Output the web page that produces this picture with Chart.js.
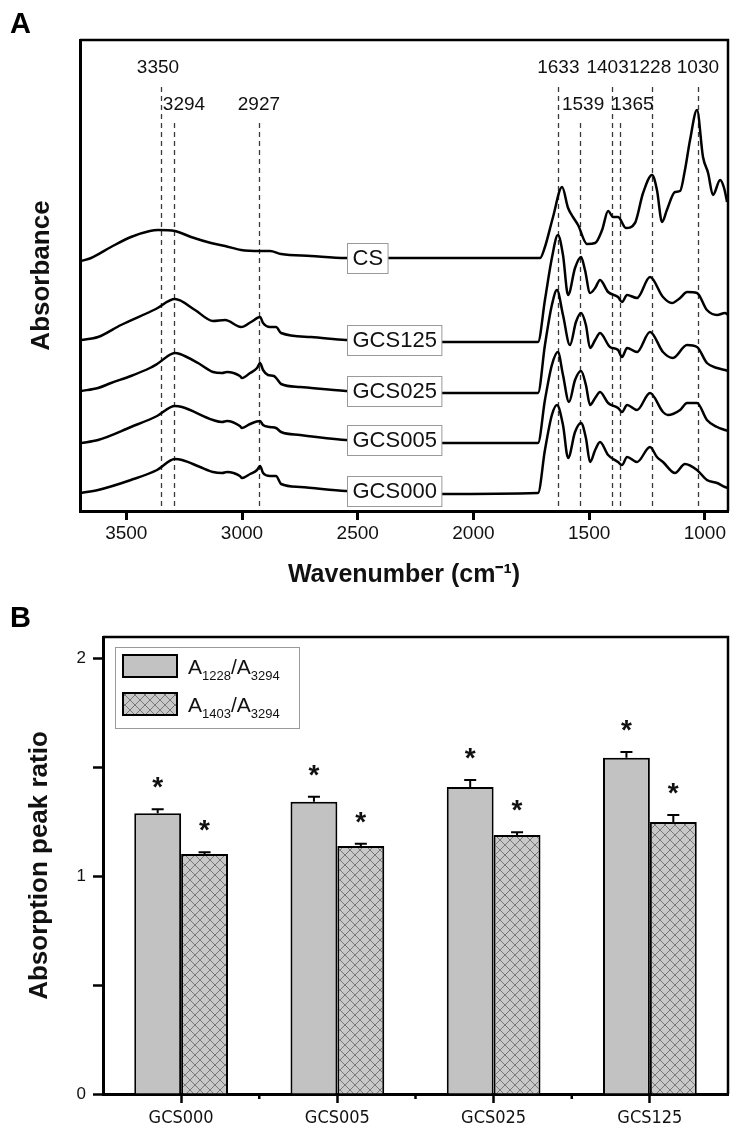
<!DOCTYPE html>
<html><head><meta charset="utf-8">
<script src="https://cdn.jsdelivr.net/npm/chart.js@4"></script>
<style>
html,body{margin:0;padding:0;background:#fff;}
#wrap{position:relative;width:739px;height:1137px;overflow:hidden;background:#fff;}
canvas{position:absolute;left:0;}
#ca{top:0;} #cb{top:590px;}
</style></head><body>
<div id="wrap"><canvas id="ca" width="739" height="590"></canvas><canvas id="cb" width="739" height="547"></canvas></div>
<script>
// ================= Panel A data (wavenumber cm-1, absorbance a.u.) =================
const wavenumberTicks = [3500, 3000, 2500, 2000, 1500, 1000];
const traceNames = ['CS', 'GCS125', 'GCS025', 'GCS005', 'GCS000'];
const specCS = [[3696,2.50],[3652,2.53],[3566,2.64],[3480,2.74],[3398,2.80],[3363,2.81],[3290,2.80],[3220,2.74],[3134,2.68],[3073,2.65],[3004,2.61],[2922,2.60],[2879,2.60],[2831,2.57],[2702,2.55],[2551,2.53],[2144,2.53],[1725,2.53],[1712,2.53],[1691,2.64],[1656,2.94],[1617,3.24],[1591,3.03],[1570,2.94],[1548,2.86],[1509,2.67],[1474,2.68],[1444,2.81],[1418,3.00],[1397,2.94],[1375,2.94],[1341,2.83],[1302,2.88],[1267,3.18],[1228,3.36],[1207,3.21],[1185,2.89],[1164,3.01],[1129,3.19],[1107,3.20],[1086,3.41],[1064,3.71],[1034,4.01],[1008,3.54],[986,3.38],[965,3.16],[934,3.31],[917,3.23],[904,3.09]];
const specGCS125 = [[3696,1.71],[3622,1.74],[3523,1.86],[3372,2.02],[3290,2.12],[3203,2.01],[3125,1.90],[3073,1.91],[3004,1.84],[2961,1.89],[2922,1.94],[2909,1.88],[2879,1.84],[2853,1.84],[2831,1.78],[2702,1.74],[2551,1.71],[2144,1.69],[1721,1.69],[1691,2.11],[1661,2.53],[1635,2.76],[1613,2.56],[1591,2.16],[1561,2.43],[1535,2.54],[1518,2.41],[1496,2.18],[1474,2.23],[1453,2.31],[1418,2.19],[1375,2.14],[1358,2.09],[1336,2.16],[1293,2.13],[1237,2.34],[1181,2.14],[1142,2.08],[1107,2.13],[1077,2.19],[1034,2.18],[991,2.01],[947,1.96],[913,1.98],[900,1.96]];
const specGCS025 = [[3696,1.20],[3622,1.23],[3566,1.28],[3480,1.35],[3398,1.43],[3367,1.47],[3290,1.58],[3268,1.57],[3190,1.48],[3125,1.39],[3086,1.38],[3065,1.39],[3009,1.35],[3000,1.33],[2965,1.38],[2935,1.43],[2922,1.48],[2909,1.41],[2888,1.36],[2862,1.35],[2849,1.32],[2831,1.27],[2749,1.24],[2551,1.20],[2144,1.18],[1721,1.18],[1691,1.66],[1661,2.06],[1639,2.21],[1613,1.96],[1583,1.66],[1557,1.89],[1535,1.98],[1514,1.86],[1496,1.63],[1474,1.71],[1453,1.78],[1410,1.64],[1375,1.61],[1358,1.54],[1336,1.63],[1293,1.59],[1237,1.79],[1181,1.59],[1138,1.53],[1077,1.66],[1034,1.64],[991,1.48],[947,1.43],[913,1.41],[900,1.40]];
const specGCS005 = [[3696,0.68],[3622,0.71],[3480,0.84],[3367,0.95],[3290,1.05],[3259,1.04],[3125,0.91],[3086,0.89],[3065,0.90],[3009,0.85],[3000,0.83],[2965,0.87],[2922,0.90],[2909,0.86],[2879,0.84],[2853,0.83],[2831,0.79],[2749,0.76],[2551,0.71],[2144,0.68],[1721,0.68],[1691,1.11],[1661,1.46],[1635,1.59],[1613,1.36],[1587,1.09],[1561,1.31],[1535,1.40],[1514,1.26],[1496,1.06],[1474,1.13],[1453,1.19],[1418,1.08],[1375,1.03],[1358,0.99],[1336,1.06],[1293,1.01],[1237,1.18],[1181,0.99],[1160,0.96],[1107,1.01],[1077,1.08],[1034,1.08],[991,0.91],[947,0.84],[913,0.81],[900,0.80]];
const specGCS000 = [[3696,0.18],[3622,0.21],[3480,0.31],[3367,0.41],[3290,0.52],[3259,0.51],[3181,0.44],[3125,0.39],[3086,0.38],[3065,0.39],[3009,0.35],[3000,0.33],[2965,0.37],[2935,0.41],[2922,0.45],[2909,0.38],[2879,0.35],[2853,0.35],[2831,0.27],[2749,0.24],[2551,0.20],[2144,0.17],[1721,0.18],[1691,0.61],[1661,0.96],[1639,1.06],[1613,0.86],[1591,0.53],[1561,0.79],[1535,0.88],[1514,0.73],[1496,0.49],[1474,0.61],[1453,0.69],[1418,0.56],[1375,0.49],[1358,0.46],[1336,0.54],[1293,0.49],[1237,0.64],[1207,0.54],[1181,0.49],[1129,0.38],[1086,0.47],[1034,0.41],[991,0.31],[947,0.28],[913,0.24],[900,0.23]];
const peakMarks = [3350, 3294, 2927, 1633, 1539, 1403, 1365, 1228, 1030];
const peakRow   = [0, 1, 1, 0, 1, 0, 1, 0, 0];
const traceLabelWn = 2545;

// ================= Panel B data =================
const samples   = ['GCS000', 'GCS005', 'GCS025', 'GCS125'];
const ratio1228 = [1.29, 1.343, 1.411, 1.545];
const err1228   = [0.018, 0.023, 0.032, 0.027];
const ratio1403 = [1.103, 1.140, 1.190, 1.250];
const err1403   = [0.008, 0.010, 0.013, 0.032];
const ratioTicks = [0, 0.5, 1, 1.5, 2];
const legendNum = ['1228', '1403'];
const legendDen = ['3294', '3294'];
const significant = [[true,true,true,true],[true,true,true,true]];

// ================= styles =================
const FONT = 'Arial, "Liberation Sans", Helvetica, sans-serif';
const NARROW = '"Liberation Sans Narrow", "Arial Narrow", "DejaVu Sans Condensed", Arial, "Liberation Sans", sans-serif';
Chart.defaults.font.family = FONT;
Chart.defaults.color = '#111';
const peakLabelShift = [-3, 10, 0, 0, 3, -4, 12, -2, 0];
const GRAY = '#c2c2c2';

const spectra = [specCS, specGCS125, specGCS025, specGCS005, specGCS000];

const plugA = {
  id: 'plugA',
  beforeDatasetsDraw(chart) {
    const {ctx, chartArea: ca, scales: {x}} = chart;
    ctx.save();
    ctx.strokeStyle = '#3a3a3a'; ctx.lineWidth = 1.3; ctx.setLineDash([5, 4]);
    peakMarks.forEach((wn, i) => {
      const px = Math.round(x.getPixelForValue(wn)) + 0.5;
      const top = ca.top + (peakRow[i] === 0 ? 47 : 83);
      ctx.beginPath(); ctx.moveTo(px, top); ctx.lineTo(px, ca.bottom - 4); ctx.stroke();
    });
    ctx.setLineDash([]);
    ctx.fillStyle = '#111'; ctx.font = '19px ' + FONT; ctx.textAlign = 'center'; ctx.textBaseline = 'middle';
    peakMarks.forEach((wn, i) => {
      ctx.fillText(String(wn), x.getPixelForValue(wn) + peakLabelShift[i], ca.top + (peakRow[i] === 0 ? 28 : 65));
    });
    ctx.restore();
  },
  afterDatasetsDraw(chart) {
    const {ctx, scales: {x, y}} = chart;
    ctx.save();
    ctx.font = '22px ' + FONT; ctx.textBaseline = 'middle'; ctx.textAlign = 'left';
    spectra.forEach((sp, i) => {
      let best = sp[0];
      sp.forEach(p => { if (Math.abs(p[0] - traceLabelWn) < Math.abs(best[0] - traceLabelWn)) best = p; });
      const x0 = Math.round(x.getPixelForValue(traceLabelWn)) + 0.5;
      const yc = y.getPixelForValue(best[1]);
      const w = ctx.measureText(traceNames[i]).width + 10;
      const h = 30;
      const y0 = Math.round(yc - h / 2) + 0.5;
      ctx.fillStyle = '#fff'; ctx.fillRect(x0, y0, w, h);
      ctx.strokeStyle = '#9a9a9a'; ctx.lineWidth = 1; ctx.strokeRect(x0, y0, w, h);
      ctx.fillStyle = '#111'; ctx.fillText(traceNames[i], x0 + 5, yc + 1);
    });
    ctx.restore();
  },
  afterDraw(chart) {
    const {ctx, chartArea: ca} = chart;
    ctx.save();
    ctx.strokeStyle = '#000'; ctx.lineWidth = 2.5;
    ctx.beginPath(); ctx.moveTo(ca.left, ca.top); ctx.lineTo(ca.right, ca.top); ctx.lineTo(ca.right, ca.bottom); ctx.stroke();
    ctx.fillStyle = '#000'; ctx.font = 'bold 29px ' + FONT; ctx.textAlign = 'left'; ctx.textBaseline = 'alphabetic';
    ctx.fillText('A', 10, 33);
    ctx.restore();
  }
};

new Chart(document.getElementById('ca'), {
  type: 'line',
  data: {
    datasets: spectra.map((sp, i) => ({
      label: traceNames[i],
      data: sp.map(p => ({x: p[0], y: p[1]})),
      borderColor: '#000', borderWidth: 2.5, pointRadius: 0,
      cubicInterpolationMode: 'monotone', fill: false
    }))
  },
  options: {
    responsive: false, animation: false, devicePixelRatio: 1,
    layout: {padding: {top: 40, right: 11, left: 0, bottom: 0}},
    plugins: {legend: {display: false}, tooltip: {enabled: false}},
    scales: {
      x: {
        type: 'linear', reverse: true, min: 900, max: 3700,
        afterBuildTicks(s) { s.ticks = wavenumberTicks.map(v => ({value: v})); },
        ticks: {font: {size: 19}, color: '#111', padding: 2, maxRotation: 0, callback: v => String(v)},
        grid: {drawOnChartArea: false, tickLength: 9, tickWidth: 3, tickColor: '#000'},
        border: {width: 3, color: '#000'},
        title: {display: true, text: 'Wavenumber (cm\u207B\u00B9)', font: {size: 25, weight: 'bold'}, color: '#111', padding: {top: 0, bottom: 0}},
        afterFit(s) { s.height = 79; }
      },
      y: {
        min: 0, max: 4.71,
        ticks: {display: false},
        grid: {display: false},
        border: {width: 3, color: '#000'},
        title: {display: true, text: 'Absorbance', font: {size: 26, weight: 'bold'}, color: '#111', padding: {top: 26, bottom: 0}},
        afterFit(s) { s.width = 80; }
      }
    }
  },
  plugins: [plugA]
});

// ================= Panel B =================
function makeHatch() {
  const c = document.createElement('canvas'); c.width = 10; c.height = 10;
  const g = c.getContext('2d');
  g.fillStyle = '#c8c8c8'; g.fillRect(0, 0, 10, 10);
  g.strokeStyle = '#6e6e6e'; g.lineWidth = 0.9;
  g.beginPath(); g.moveTo(0, 0); g.lineTo(10, 10); g.moveTo(10, 0); g.lineTo(0, 10); g.stroke();
  return document.getElementById('cb').getContext('2d').createPattern(c, 'repeat');
}
const hatch = makeHatch();
const errs = [err1228, err1403];

const plugB = {
  id: 'plugB',
  afterDatasetsDraw(chart) {
    const {ctx, scales: {y}} = chart;
    ctx.save();
    chart.data.datasets.forEach((ds, di) => {
      const meta = chart.getDatasetMeta(di);
      meta.data.forEach((bar, j) => {
        const v = ds.data[j], e = errs[di][j];
        const yTop = y.getPixelForValue(v + e);
        const yv = y.getPixelForValue(v);
        ctx.strokeStyle = '#000'; ctx.lineWidth = 2;
        ctx.beginPath(); ctx.moveTo(bar.x, yv); ctx.lineTo(bar.x, yTop);
        ctx.moveTo(bar.x - 6, yTop); ctx.lineTo(bar.x + 6, yTop); ctx.stroke();
        if (significant[di][j]) {
          ctx.fillStyle = '#111'; ctx.font = 'bold 28px ' + FONT; ctx.textAlign = 'center'; ctx.textBaseline = 'alphabetic';
          ctx.fillText('*', bar.x, yTop - 13);
        }
      });
    });
    ctx.restore();
  },
  afterDraw(chart) {
    const {ctx, chartArea: ca, scales: {x}} = chart;
    ctx.save();
    ctx.strokeStyle = '#000'; ctx.lineWidth = 2.5;
    ctx.beginPath(); ctx.moveTo(ca.left, ca.top); ctx.lineTo(ca.right, ca.top); ctx.lineTo(ca.right, ca.bottom); ctx.stroke();
    for (let j = 0; j < samples.length - 1; j++) {
      const mx = (x.getPixelForTick(j) + x.getPixelForTick(j + 1)) / 2;
      ctx.beginPath(); ctx.moveTo(mx, ca.bottom); ctx.lineTo(mx, ca.bottom + 5); ctx.stroke();
    }
    const lx = ca.left + 12, ly = ca.top + 10, lw = 184, lh = 81;
    ctx.fillStyle = '#fff'; ctx.fillRect(lx + 0.5, ly + 0.5, lw, lh);
    ctx.strokeStyle = '#9a9a9a'; ctx.lineWidth = 1; ctx.strokeRect(lx + 0.5, ly + 0.5, lw, lh);
    chart.data.datasets.forEach((ds, di) => {
      const sy = ly + 8 + di * 38;
      ctx.fillStyle = ds.backgroundColor; ctx.fillRect(lx + 8, sy, 54, 22);
      ctx.strokeStyle = '#000'; ctx.lineWidth = 2; ctx.strokeRect(lx + 8, sy, 54, 22);
      let tx = lx + 73; const base = sy + 19;
      ctx.fillStyle = '#111'; ctx.textAlign = 'left'; ctx.textBaseline = 'alphabetic';
      const parts = [['A', 0], [legendNum[di], 1], ['/A', 0], [legendDen[di], 1]];
      parts.forEach(([t, sub]) => {
        ctx.font = (sub ? '13px ' : '21px ') + FONT;
        ctx.fillText(t, tx, base + (sub ? 6 : 0));
        tx += ctx.measureText(t).width;
      });
    });
    ctx.fillStyle = '#000'; ctx.font = 'bold 29px ' + FONT; ctx.textAlign = 'left'; ctx.textBaseline = 'alphabetic';
    ctx.fillText('B', 10, 37);
    ctx.restore();
  }
};

new Chart(document.getElementById('cb'), {
  type: 'bar',
  data: {
    labels: samples,
    datasets: [
      {label: 'A1228/A3294', data: ratio1228, backgroundColor: GRAY, borderColor: '#000', borderWidth: 2, categoryPercentage: 0.6, barPercentage: 1.0},
      {label: 'A1403/A3294', data: ratio1403, backgroundColor: hatch, borderColor: '#000', borderWidth: 2, categoryPercentage: 0.6, barPercentage: 1.0}
    ]
  },
  options: {
    responsive: false, animation: false, devicePixelRatio: 1,
    layout: {padding: {top: 47, right: 11, left: 0, bottom: 0}},
    plugins: {legend: {display: false}, tooltip: {enabled: false}},
    scales: {
      x: {
        offset: true,
        grid: {offset: false, drawOnChartArea: false, tickLength: 9, tickWidth: 2.5, tickColor: '#000'},
        border: {width: 3, color: '#000'},
        ticks: {font: {size: 18, family: NARROW}, color: '#111', padding: 5, maxRotation: 0},
        afterFit(s) { s.height = 43; }
      },
      y: {
        min: 0, max: 2.1,
        afterBuildTicks(s) { s.ticks = ratioTicks.map(v => ({value: v})); },
        ticks: {font: {size: 17}, color: '#111', padding: 7, callback: v => Number.isInteger(v) ? String(v) : ''},
        grid: {drawOnChartArea: false, tickLength: 10, tickWidth: 2.5, tickColor: '#000'},
        border: {width: 3, color: '#000'},
        title: {display: true, text: 'Absorption peak ratio', font: {size: 26, weight: 'bold'}, color: '#111', padding: {top: 24, bottom: 0}},
        afterFit(s) { s.width = 103; }
      }
    }
  },
  plugins: [plugB]
});
</script>
</body></html>
